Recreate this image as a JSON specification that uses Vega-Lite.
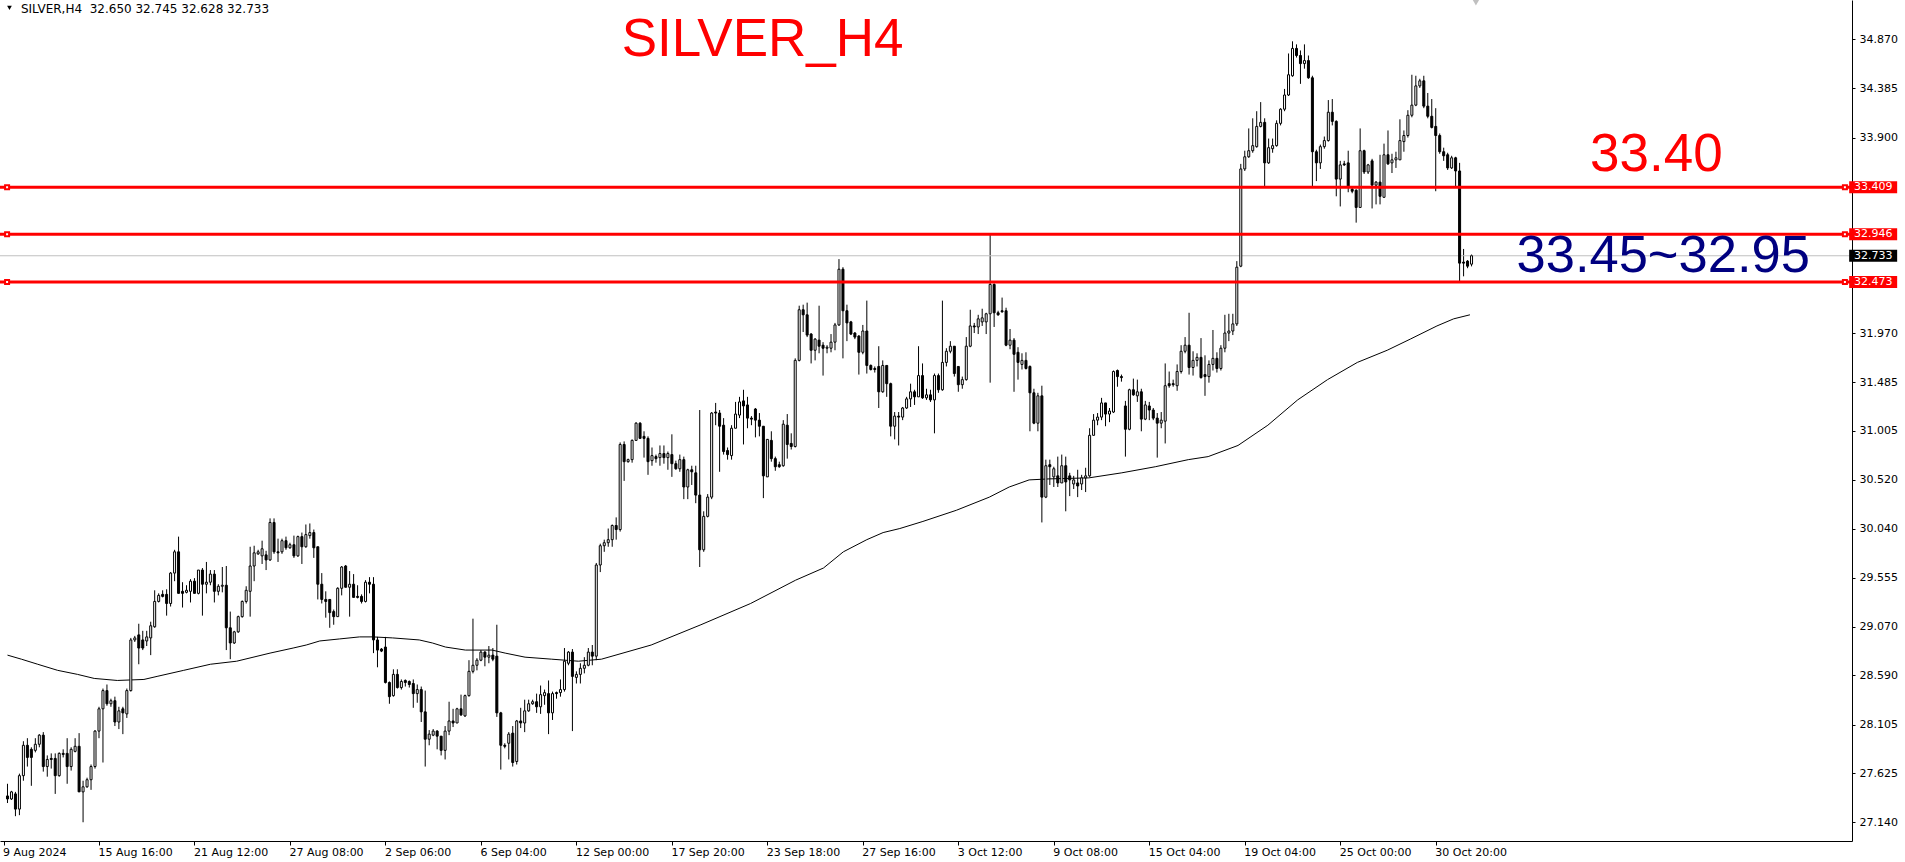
{
  "$schema": "https://vega.github.io/schema/vega-lite/v6.json",
  "width": 1852,
  "height": 841,
  "autosize": {"type": "none"},
  "padding": {"left": 0, "top": 0, "right": 53, "bottom": 21},
  "background": "white",
  "config": {
    "view": {"stroke": null},
    "axis": {"labelFont": "DejaVu Sans", "labelFontSize": 11, "labelColor": "black", "domainColor": "black", "tickColor": "black", "grid": false, "domain": true, "ticks": true, "labels": true}
  },
  "resolve": {"axis": {"x": "independent", "y": "independent"}},
  "datasets": {
    "bars": [
      {"i":0,"o":27.40,"h":27.52,"l":27.33,"c":27.37},{"i":1,"o":27.37,"h":27.45,"l":27.36,"c":27.44},{"i":2,"o":27.42,"h":27.44,"l":27.20,"c":27.27},{"i":3,"o":27.27,"h":27.62,"l":27.21,"c":27.60},{"i":4,"o":27.60,"h":27.94,"l":27.55,"c":27.90},
      {"i":5,"o":27.90,"h":27.97,"l":27.69,"c":27.78},{"i":6,"o":27.86,"h":27.88,"l":27.50,"c":27.78},{"i":7,"o":27.85,"h":27.97,"l":27.83,"c":27.91},{"i":8,"o":27.91,"h":28.01,"l":27.88,"c":28.00},{"i":9,"o":28.00,"h":28.03,"l":27.64,"c":27.69},
      {"i":10,"o":27.69,"h":27.80,"l":27.59,"c":27.76},{"i":11,"o":27.77,"h":27.82,"l":27.67,"c":27.76},{"i":12,"o":27.77,"h":27.82,"l":27.42,"c":27.60},{"i":13,"o":27.60,"h":27.83,"l":27.59,"c":27.82},{"i":14,"o":27.82,"h":27.86,"l":27.78,"c":27.81},
      {"i":15,"o":27.82,"h":27.97,"l":27.52,"c":27.69},{"i":16,"o":27.69,"h":27.88,"l":27.65,"c":27.86},{"i":17,"o":27.84,"h":27.97,"l":27.83,"c":27.89},{"i":18,"o":27.89,"h":28.02,"l":27.44,"c":27.44},{"i":19,"o":27.44,"h":27.55,"l":27.14,"c":27.49},
      {"i":20,"o":27.49,"h":27.58,"l":27.48,"c":27.56},{"i":21,"o":27.56,"h":27.71,"l":27.46,"c":27.69},{"i":22,"o":27.69,"h":28.05,"l":27.67,"c":28.04},{"i":23,"o":28.04,"h":28.28,"l":27.97,"c":28.26},{"i":24,"o":28.26,"h":28.46,"l":27.73,"c":28.44},
      {"i":25,"o":28.44,"h":28.50,"l":28.29,"c":28.31},{"i":26,"o":28.31,"h":28.36,"l":28.28,"c":28.34},{"i":27,"o":28.34,"h":28.38,"l":28.09,"c":28.13},{"i":28,"o":28.13,"h":28.28,"l":28.06,"c":28.24},{"i":29,"o":28.26,"h":28.28,"l":28.01,"c":28.22},
      {"i":30,"o":28.21,"h":28.46,"l":28.17,"c":28.44},{"i":31,"o":28.44,"h":28.96,"l":28.43,"c":28.94},{"i":32,"o":28.94,"h":28.98,"l":28.92,"c":28.96},{"i":33,"o":28.99,"h":29.10,"l":28.70,"c":28.86},{"i":34,"o":28.94,"h":29.03,"l":28.84,"c":28.86},
      {"i":35,"o":28.93,"h":29.03,"l":28.88,"c":28.97},{"i":36,"o":28.96,"h":29.12,"l":28.79,"c":29.08},{"i":37,"o":29.07,"h":29.43,"l":29.06,"c":29.32},{"i":38,"o":29.32,"h":29.40,"l":29.31,"c":29.38},{"i":39,"o":29.39,"h":29.43,"l":29.36,"c":29.37},
      {"i":40,"o":29.39,"h":29.44,"l":29.18,"c":29.30},{"i":41,"o":29.30,"h":29.61,"l":29.27,"c":29.60},{"i":42,"o":29.60,"h":29.83,"l":29.52,"c":29.81},{"i":43,"o":29.81,"h":29.96,"l":29.40,"c":29.40},{"i":44,"o":29.42,"h":29.51,"l":29.26,"c":29.40},
      {"i":45,"o":29.41,"h":29.48,"l":29.40,"c":29.43},{"i":46,"o":29.42,"h":29.54,"l":29.31,"c":29.52},{"i":47,"o":29.52,"h":29.55,"l":29.40,"c":29.40},{"i":48,"o":29.40,"h":29.63,"l":29.39,"c":29.63},{"i":49,"o":29.63,"h":29.65,"l":29.18,"c":29.49},
      {"i":50,"o":29.49,"h":29.71,"l":29.40,"c":29.51},{"i":51,"o":29.51,"h":29.63,"l":29.48,"c":29.59},{"i":52,"o":29.59,"h":29.63,"l":29.31,"c":29.42},{"i":53,"o":29.42,"h":29.49,"l":29.38,"c":29.47},{"i":54,"o":29.47,"h":29.66,"l":29.41,"c":29.48},
      {"i":55,"o":29.48,"h":29.67,"l":28.84,"c":29.06},{"i":56,"o":29.06,"h":29.22,"l":28.75,"c":28.91},{"i":57,"o":28.91,"h":29.03,"l":28.90,"c":29.02},{"i":58,"o":29.02,"h":29.18,"l":29.01,"c":29.17},{"i":59,"o":29.17,"h":29.33,"l":29.16,"c":29.32},
      {"i":60,"o":29.32,"h":29.47,"l":29.30,"c":29.43},{"i":61,"o":29.42,"h":29.86,"l":29.17,"c":29.67},{"i":62,"o":29.67,"h":29.87,"l":29.52,"c":29.80},{"i":63,"o":29.79,"h":29.83,"l":29.78,"c":29.81},{"i":64,"o":29.77,"h":29.92,"l":29.69,"c":29.84},
      {"i":65,"o":29.78,"h":29.82,"l":29.63,"c":29.73},{"i":66,"o":29.73,"h":30.14,"l":29.72,"c":30.10},{"i":67,"o":30.10,"h":30.14,"l":29.79,"c":29.81},{"i":68,"o":29.81,"h":29.94,"l":29.71,"c":29.80},{"i":69,"o":29.81,"h":29.94,"l":29.79,"c":29.92},
      {"i":70,"o":29.92,"h":29.96,"l":29.83,"c":29.85},{"i":71,"o":29.85,"h":29.90,"l":29.84,"c":29.88},{"i":72,"o":29.88,"h":29.97,"l":29.75,"c":29.77},{"i":73,"o":29.77,"h":29.97,"l":29.76,"c":29.96},{"i":74,"o":29.96,"h":30.00,"l":29.69,"c":29.86},
      {"i":75,"o":29.86,"h":30.08,"l":29.85,"c":29.98},{"i":76,"o":29.97,"h":30.09,"l":29.94,"c":30.00},{"i":77,"o":30.00,"h":30.03,"l":29.75,"c":29.85},{"i":78,"o":29.86,"h":29.86,"l":29.34,"c":29.49},{"i":79,"o":29.49,"h":29.60,"l":29.30,"c":29.34},
      {"i":80,"o":29.34,"h":29.42,"l":29.16,"c":29.32},{"i":81,"o":29.34,"h":29.34,"l":29.06,"c":29.21},{"i":82,"o":29.22,"h":29.24,"l":29.09,"c":29.17},{"i":83,"o":29.17,"h":29.46,"l":29.17,"c":29.45},{"i":84,"o":29.45,"h":29.67,"l":29.38,"c":29.66},
      {"i":85,"o":29.67,"h":29.68,"l":29.46,"c":29.46},{"i":86,"o":29.46,"h":29.62,"l":29.17,"c":29.49},{"i":87,"o":29.49,"h":29.59,"l":29.36,"c":29.36},{"i":88,"o":29.37,"h":29.48,"l":29.35,"c":29.36},{"i":89,"o":29.37,"h":29.39,"l":29.30,"c":29.32},
      {"i":90,"o":29.32,"h":29.53,"l":29.31,"c":29.51},{"i":91,"o":29.51,"h":29.56,"l":29.40,"c":29.49},{"i":92,"o":29.49,"h":29.56,"l":28.81,"c":28.94},{"i":93,"o":28.94,"h":28.97,"l":28.67,"c":28.84},{"i":94,"o":28.85,"h":28.86,"l":28.82,"c":28.83},
      {"i":95,"o":28.87,"h":28.97,"l":28.51,"c":28.52},{"i":96,"o":28.52,"h":28.53,"l":28.31,"c":28.38},{"i":97,"o":28.39,"h":28.65,"l":28.38,"c":28.60},{"i":98,"o":28.60,"h":28.65,"l":28.46,"c":28.47},{"i":99,"o":28.47,"h":28.55,"l":28.45,"c":28.53},
      {"i":100,"o":28.54,"h":28.55,"l":28.48,"c":28.52},{"i":101,"o":28.53,"h":28.54,"l":28.47,"c":28.50},{"i":102,"o":28.51,"h":28.55,"l":28.27,"c":28.41},{"i":103,"o":28.41,"h":28.50,"l":28.32,"c":28.45},{"i":104,"o":28.45,"h":28.48,"l":28.13,"c":28.23},
      {"i":105,"o":28.23,"h":28.44,"l":27.69,"c":27.96},{"i":106,"o":27.96,"h":28.05,"l":27.90,"c":28.01},{"i":107,"o":28.00,"h":28.06,"l":27.99,"c":28.04},{"i":108,"o":28.04,"h":28.05,"l":27.86,"c":27.99},{"i":109,"o":27.99,"h":27.99,"l":27.80,"c":27.85},
      {"i":110,"o":27.85,"h":28.09,"l":27.76,"c":28.04},{"i":111,"o":28.04,"h":28.33,"l":28.00,"c":28.14},{"i":112,"o":28.14,"h":28.26,"l":28.08,"c":28.12},{"i":113,"o":28.12,"h":28.27,"l":28.12,"c":28.26},{"i":114,"o":28.26,"h":28.40,"l":28.19,"c":28.20},
      {"i":115,"o":28.19,"h":28.40,"l":28.18,"c":28.39},{"i":116,"o":28.39,"h":28.74,"l":28.38,"c":28.63},{"i":117,"o":28.63,"h":29.15,"l":28.61,"c":28.69},{"i":118,"o":28.69,"h":28.76,"l":28.64,"c":28.74},{"i":119,"o":28.74,"h":28.84,"l":28.73,"c":28.82},
      {"i":120,"o":28.82,"h":28.83,"l":28.68,"c":28.77},{"i":121,"o":28.77,"h":28.88,"l":28.71,"c":28.79},{"i":122,"o":28.79,"h":28.86,"l":28.73,"c":28.75},{"i":123,"o":28.78,"h":29.09,"l":28.18,"c":28.22},{"i":124,"o":28.22,"h":28.23,"l":27.66,"c":27.90},
      {"i":125,"o":27.90,"h":27.92,"l":27.87,"c":27.89},{"i":126,"o":27.92,"h":28.03,"l":27.76,"c":28.01},{"i":127,"o":28.02,"h":28.09,"l":27.69,"c":27.73},{"i":128,"o":27.74,"h":28.15,"l":27.71,"c":28.14},{"i":129,"o":28.14,"h":28.27,"l":28.07,"c":28.12},
      {"i":130,"o":28.12,"h":28.35,"l":28.03,"c":28.24},{"i":131,"o":28.24,"h":28.35,"l":28.23,"c":28.31},{"i":132,"o":28.31,"h":28.35,"l":28.30,"c":28.33},{"i":133,"o":28.33,"h":28.41,"l":28.22,"c":28.28},{"i":134,"o":28.28,"h":28.49,"l":28.21,"c":28.40},
      {"i":135,"o":28.39,"h":28.45,"l":28.30,"c":28.42},{"i":136,"o":28.41,"h":28.54,"l":28.01,"c":28.22},{"i":137,"o":28.22,"h":28.43,"l":28.15,"c":28.41},{"i":138,"o":28.42,"h":28.43,"l":28.36,"c":28.41},{"i":139,"o":28.42,"h":28.55,"l":28.38,"c":28.45},
      {"i":140,"o":28.45,"h":28.86,"l":28.43,"c":28.73},{"i":141,"o":28.71,"h":28.83,"l":28.69,"c":28.82},{"i":142,"o":28.82,"h":28.85,"l":28.04,"c":28.58},{"i":143,"o":28.57,"h":28.63,"l":28.51,"c":28.60},{"i":144,"o":28.60,"h":28.71,"l":28.51,"c":28.66},
      {"i":145,"o":28.66,"h":28.77,"l":28.61,"c":28.69},{"i":146,"o":28.69,"h":28.86,"l":28.68,"c":28.82},{"i":147,"o":28.82,"h":28.89,"l":28.69,"c":28.78},{"i":148,"o":28.78,"h":29.70,"l":28.74,"c":29.68},{"i":149,"o":29.68,"h":29.89,"l":29.61,"c":29.87},
      {"i":150,"o":29.87,"h":29.93,"l":29.81,"c":29.90},{"i":151,"o":29.90,"h":30.04,"l":29.86,"c":29.93},{"i":152,"o":29.93,"h":30.08,"l":29.86,"c":30.07},{"i":153,"o":30.07,"h":30.15,"l":29.93,"c":30.03},{"i":154,"o":30.03,"h":30.89,"l":30.01,"c":30.87},
      {"i":155,"o":30.87,"h":30.90,"l":30.51,"c":30.70},{"i":156,"o":30.70,"h":30.73,"l":30.69,"c":30.72},{"i":157,"o":30.72,"h":30.92,"l":30.69,"c":30.91},{"i":158,"o":30.91,"h":31.09,"l":30.91,"c":31.08},{"i":159,"o":31.08,"h":31.09,"l":30.93,"c":30.93},
      {"i":160,"o":30.95,"h":31.00,"l":30.74,"c":30.93},{"i":161,"o":30.93,"h":30.95,"l":30.57,"c":30.70},{"i":162,"o":30.71,"h":30.84,"l":30.66,"c":30.76},{"i":163,"o":30.75,"h":30.77,"l":30.69,"c":30.73},{"i":164,"o":30.74,"h":30.86,"l":30.66,"c":30.78},
      {"i":165,"o":30.78,"h":30.86,"l":30.68,"c":30.74},{"i":166,"o":30.74,"h":30.80,"l":30.62,"c":30.78},{"i":167,"o":30.77,"h":30.97,"l":30.55,"c":30.68},{"i":168,"o":30.68,"h":30.71,"l":30.62,"c":30.63},{"i":169,"o":30.63,"h":30.77,"l":30.60,"c":30.72},
      {"i":170,"o":30.72,"h":30.75,"l":30.33,"c":30.45},{"i":171,"o":30.45,"h":30.63,"l":30.33,"c":30.62},{"i":172,"o":30.62,"h":30.66,"l":30.47,"c":30.60},{"i":173,"o":30.59,"h":30.66,"l":30.29,"c":30.37},{"i":174,"o":30.37,"h":31.21,"l":29.66,"c":29.83},
      {"i":175,"o":29.83,"h":30.21,"l":29.81,"c":30.16},{"i":176,"o":30.16,"h":30.38,"l":30.15,"c":30.35},{"i":177,"o":30.35,"h":31.19,"l":30.33,"c":31.18},{"i":178,"o":31.19,"h":31.28,"l":31.06,"c":31.18},{"i":179,"o":31.18,"h":31.21,"l":30.60,"c":31.05},
      {"i":180,"o":31.06,"h":31.13,"l":30.77,"c":30.80},{"i":181,"o":30.81,"h":30.84,"l":30.72,"c":30.77},{"i":182,"o":30.76,"h":31.06,"l":30.72,"c":31.03},{"i":183,"o":31.03,"h":31.29,"l":31.03,"c":31.17},{"i":184,"o":31.16,"h":31.34,"l":31.13,"c":31.29},
      {"i":185,"o":31.30,"h":31.41,"l":30.87,"c":31.25},{"i":186,"o":31.26,"h":31.34,"l":31.03,"c":31.13},{"i":187,"o":31.13,"h":31.15,"l":31.06,"c":31.12},{"i":188,"o":31.22,"h":31.23,"l":30.94,"c":31.11},{"i":189,"o":31.11,"h":31.18,"l":30.95,"c":31.05},
      {"i":190,"o":31.05,"h":31.05,"l":30.34,"c":30.56},{"i":191,"o":30.55,"h":30.92,"l":30.55,"c":30.92},{"i":192,"o":30.91,"h":31.00,"l":30.70,"c":30.73},{"i":193,"o":30.73,"h":30.75,"l":30.61,"c":30.65},{"i":194,"o":30.67,"h":30.70,"l":30.64,"c":30.65},
      {"i":195,"o":30.66,"h":31.11,"l":30.65,"c":31.07},{"i":196,"o":31.06,"h":31.17,"l":30.73,"c":30.87},{"i":197,"o":30.88,"h":30.98,"l":30.82,"c":30.85},{"i":198,"o":30.85,"h":31.72,"l":30.84,"c":31.70},{"i":199,"o":31.70,"h":32.24,"l":31.69,"c":32.20},
      {"i":200,"o":32.20,"h":32.25,"l":31.98,"c":32.15},{"i":201,"o":32.15,"h":32.27,"l":31.93,"c":31.95},{"i":202,"o":31.96,"h":31.97,"l":31.67,"c":31.80},{"i":203,"o":31.80,"h":31.92,"l":31.70,"c":31.91},{"i":204,"o":31.90,"h":32.24,"l":31.77,"c":31.84},
      {"i":205,"o":31.85,"h":31.88,"l":31.55,"c":31.82},{"i":206,"o":31.82,"h":31.85,"l":31.77,"c":31.83},{"i":207,"o":31.82,"h":31.96,"l":31.78,"c":31.88},{"i":208,"o":31.88,"h":32.07,"l":31.80,"c":32.05},{"i":209,"o":32.05,"h":32.70,"l":32.04,"c":32.60},
      {"i":210,"o":32.60,"h":32.62,"l":31.72,"c":32.19},{"i":211,"o":32.19,"h":32.25,"l":31.89,"c":32.07},{"i":212,"o":32.08,"h":32.09,"l":31.95,"c":31.96},{"i":213,"o":31.97,"h":31.98,"l":31.91,"c":31.93},{"i":214,"o":31.94,"h":31.95,"l":31.56,"c":31.78},
      {"i":215,"o":31.78,"h":32.05,"l":31.76,"c":31.99},{"i":216,"o":31.99,"h":32.29,"l":31.57,"c":31.65},{"i":217,"o":31.65,"h":31.66,"l":31.60,"c":31.61},{"i":218,"o":31.62,"h":31.64,"l":31.58,"c":31.61},{"i":219,"o":31.64,"h":31.84,"l":31.23,"c":31.39},
      {"i":220,"o":31.39,"h":31.70,"l":31.38,"c":31.65},{"i":221,"o":31.65,"h":31.65,"l":31.34,"c":31.47},{"i":222,"o":31.47,"h":31.48,"l":30.95,"c":31.05},{"i":223,"o":31.05,"h":31.19,"l":30.92,"c":31.15},{"i":224,"o":31.15,"h":31.19,"l":30.86,"c":31.14},
      {"i":225,"o":31.14,"h":31.24,"l":31.11,"c":31.23},{"i":226,"o":31.23,"h":31.34,"l":31.22,"c":31.32},{"i":227,"o":31.32,"h":31.47,"l":31.24,"c":31.39},{"i":228,"o":31.39,"h":31.41,"l":31.26,"c":31.34},{"i":229,"o":31.34,"h":31.84,"l":31.34,"c":31.55},
      {"i":230,"o":31.55,"h":31.67,"l":31.32,"c":31.33},{"i":231,"o":31.33,"h":31.42,"l":31.31,"c":31.36},{"i":232,"o":31.36,"h":31.41,"l":31.29,"c":31.31},{"i":233,"o":31.31,"h":31.57,"l":30.98,"c":31.55},{"i":234,"o":31.55,"h":31.57,"l":31.38,"c":31.41},
      {"i":235,"o":31.41,"h":32.29,"l":31.40,"c":31.68},{"i":236,"o":31.68,"h":31.82,"l":31.64,"c":31.79},{"i":237,"o":31.79,"h":31.89,"l":31.77,"c":31.84},{"i":238,"o":31.84,"h":31.84,"l":31.54,"c":31.57},{"i":239,"o":31.64,"h":31.64,"l":31.39,"c":31.46},
      {"i":240,"o":31.46,"h":31.54,"l":31.42,"c":31.51},{"i":241,"o":31.51,"h":31.93,"l":31.50,"c":31.84},{"i":242,"o":31.84,"h":32.20,"l":31.83,"c":32.04},{"i":243,"o":32.04,"h":32.07,"l":31.97,"c":32.03},{"i":244,"o":32.03,"h":32.15,"l":31.96,"c":32.11},
      {"i":245,"o":32.08,"h":32.21,"l":32.04,"c":32.12},{"i":246,"o":32.08,"h":32.17,"l":31.96,"c":32.16},{"i":247,"o":32.16,"h":32.94,"l":31.48,"c":32.45},{"i":248,"o":32.45,"h":32.46,"l":32.03,"c":32.17},{"i":249,"o":32.17,"h":32.19,"l":32.14,"c":32.15},
      {"i":250,"o":32.19,"h":32.32,"l":32.17,"c":32.18},{"i":251,"o":32.19,"h":32.22,"l":31.84,"c":31.85},{"i":252,"o":31.85,"h":32.01,"l":31.81,"c":31.90},{"i":253,"o":31.90,"h":31.92,"l":31.39,"c":31.76},{"i":254,"o":31.78,"h":31.83,"l":31.51,"c":31.68},
      {"i":255,"o":31.66,"h":31.77,"l":31.61,"c":31.70},{"i":256,"o":31.70,"h":31.78,"l":31.61,"c":31.62},{"i":257,"o":31.64,"h":31.65,"l":31.00,"c":31.38},{"i":258,"o":31.38,"h":31.42,"l":31.07,"c":31.08},{"i":259,"o":31.08,"h":31.38,"l":31.00,"c":31.35},
      {"i":260,"o":31.35,"h":31.45,"l":30.10,"c":30.35},{"i":261,"o":30.35,"h":30.72,"l":30.34,"c":30.66},{"i":262,"o":30.67,"h":30.72,"l":30.47,"c":30.65},{"i":263,"o":30.55,"h":30.65,"l":30.45,"c":30.63},{"i":264,"o":30.56,"h":30.75,"l":30.45,"c":30.49},
      {"i":265,"o":30.49,"h":30.77,"l":30.49,"c":30.66},{"i":266,"o":30.66,"h":30.75,"l":30.21,"c":30.50},{"i":267,"o":30.56,"h":30.59,"l":30.36,"c":30.52},{"i":268,"o":30.48,"h":30.56,"l":30.43,"c":30.52},{"i":269,"o":30.49,"h":30.62,"l":30.35,"c":30.46},
      {"i":270,"o":30.48,"h":30.57,"l":30.42,"c":30.54},{"i":271,"o":30.54,"h":30.64,"l":30.40,"c":30.56},{"i":272,"o":30.56,"h":31.03,"l":30.55,"c":30.96},{"i":273,"o":30.96,"h":31.17,"l":30.96,"c":31.11},{"i":274,"o":31.11,"h":31.18,"l":31.06,"c":31.14},
      {"i":275,"o":31.14,"h":31.33,"l":31.11,"c":31.28},{"i":276,"o":31.28,"h":31.28,"l":31.05,"c":31.17},{"i":277,"o":31.17,"h":31.23,"l":31.09,"c":31.20},{"i":278,"o":31.19,"h":31.60,"l":31.18,"c":31.59},{"i":279,"o":31.60,"h":31.61,"l":31.44,"c":31.54},
      {"i":280,"o":31.54,"h":31.56,"l":31.49,"c":31.53},{"i":281,"o":31.25,"h":31.30,"l":30.75,"c":31.02},{"i":282,"o":31.02,"h":31.42,"l":31.01,"c":31.41},{"i":283,"o":31.41,"h":31.52,"l":31.35,"c":31.36},{"i":284,"o":31.35,"h":31.51,"l":31.29,"c":31.39},
      {"i":285,"o":31.39,"h":31.42,"l":31.00,"c":31.12},{"i":286,"o":31.12,"h":31.30,"l":31.11,"c":31.26},{"i":287,"o":31.25,"h":31.29,"l":31.11,"c":31.21},{"i":288,"o":31.21,"h":31.23,"l":31.11,"c":31.13},{"i":289,"o":31.13,"h":31.18,"l":30.74,"c":31.08},
      {"i":290,"o":31.08,"h":31.19,"l":31.03,"c":31.11},{"i":291,"o":31.10,"h":31.67,"l":30.88,"c":31.45},{"i":292,"o":31.47,"h":31.59,"l":31.43,"c":31.45},{"i":293,"o":31.47,"h":31.51,"l":31.44,"c":31.46},{"i":294,"o":31.45,"h":31.66,"l":31.40,"c":31.59},
      {"i":295,"o":31.59,"h":31.85,"l":31.57,"c":31.79},{"i":296,"o":31.79,"h":31.93,"l":31.77,"c":31.85},{"i":297,"o":31.85,"h":32.17,"l":31.56,"c":31.63},{"i":298,"o":31.63,"h":31.79,"l":31.55,"c":31.70},{"i":299,"o":31.70,"h":31.77,"l":31.64,"c":31.73},
      {"i":300,"o":31.73,"h":31.92,"l":31.52,"c":31.53},{"i":301,"o":31.56,"h":31.75,"l":31.35,"c":31.54},{"i":302,"o":31.54,"h":31.70,"l":31.48,"c":31.66},{"i":303,"o":31.66,"h":32.00,"l":31.60,"c":31.72},{"i":304,"o":31.72,"h":31.78,"l":31.58,"c":31.62},
      {"i":305,"o":31.62,"h":31.85,"l":31.60,"c":31.82},{"i":306,"o":31.82,"h":32.15,"l":31.78,"c":31.97},{"i":307,"o":31.97,"h":32.16,"l":31.89,"c":31.99},{"i":308,"o":31.99,"h":32.16,"l":31.95,"c":32.06},{"i":309,"o":32.06,"h":32.68,"l":32.04,"c":32.62},
      {"i":310,"o":32.63,"h":33.64,"l":32.62,"c":33.59},{"i":311,"o":33.59,"h":33.77,"l":33.57,"c":33.71},{"i":312,"o":33.71,"h":33.99,"l":33.70,"c":33.77},{"i":313,"o":33.77,"h":34.09,"l":33.75,"c":33.82},{"i":314,"o":33.81,"h":34.16,"l":33.80,"c":34.01},
      {"i":315,"o":34.01,"h":34.25,"l":34.00,"c":34.05},{"i":316,"o":34.05,"h":34.09,"l":33.42,"c":33.65},{"i":317,"o":33.65,"h":33.89,"l":33.64,"c":33.80},{"i":318,"o":33.79,"h":33.89,"l":33.75,"c":33.82},{"i":319,"o":33.82,"h":34.07,"l":33.81,"c":34.04},
      {"i":320,"o":34.04,"h":34.19,"l":34.02,"c":34.18},{"i":321,"o":34.18,"h":34.38,"l":34.16,"c":34.32},{"i":322,"o":34.32,"h":34.73,"l":34.31,"c":34.52},{"i":323,"o":34.51,"h":34.85,"l":34.50,"c":34.78},{"i":324,"o":34.78,"h":34.82,"l":34.69,"c":34.71},
      {"i":325,"o":34.71,"h":34.76,"l":34.43,"c":34.63},{"i":326,"o":34.63,"h":34.82,"l":34.58,"c":34.66},{"i":327,"o":34.66,"h":34.71,"l":34.48,"c":34.49},{"i":328,"o":34.49,"h":34.51,"l":33.42,"c":33.76},{"i":329,"o":33.76,"h":33.78,"l":33.47,"c":33.65},
      {"i":330,"o":33.65,"h":33.83,"l":33.59,"c":33.81},{"i":331,"o":33.81,"h":33.91,"l":33.79,"c":33.87},{"i":332,"o":33.87,"h":34.27,"l":33.86,"c":34.15},{"i":333,"o":34.15,"h":34.28,"l":34.02,"c":34.06},{"i":334,"o":34.06,"h":34.07,"l":33.32,"c":33.49},
      {"i":335,"o":33.49,"h":33.67,"l":33.22,"c":33.63},{"i":336,"o":33.64,"h":33.67,"l":33.62,"c":33.63},{"i":337,"o":33.65,"h":33.77,"l":33.36,"c":33.41},{"i":338,"o":33.39,"h":33.41,"l":33.35,"c":33.37},{"i":339,"o":33.38,"h":33.39,"l":33.06,"c":33.21},
      {"i":340,"o":33.21,"h":33.99,"l":33.21,"c":33.77},{"i":341,"o":33.77,"h":33.78,"l":33.54,"c":33.56},{"i":342,"o":33.56,"h":33.64,"l":33.54,"c":33.63},{"i":343,"o":33.67,"h":33.69,"l":33.20,"c":33.43},{"i":344,"o":33.43,"h":33.47,"l":33.24,"c":33.46},
      {"i":345,"o":33.46,"h":33.73,"l":33.24,"c":33.32},{"i":346,"o":33.31,"h":33.84,"l":33.31,"c":33.73},{"i":347,"o":33.73,"h":33.97,"l":33.63,"c":33.64},{"i":348,"o":33.65,"h":33.74,"l":33.55,"c":33.68},{"i":349,"o":33.68,"h":33.76,"l":33.60,"c":33.70},
      {"i":350,"o":33.68,"h":34.08,"l":33.68,"c":33.87},{"i":351,"o":33.86,"h":33.97,"l":33.76,"c":33.92},{"i":352,"o":33.92,"h":34.17,"l":33.90,"c":34.12},{"i":353,"o":34.12,"h":34.52,"l":34.10,"c":34.22},{"i":354,"o":34.22,"h":34.51,"l":34.21,"c":34.41},
      {"i":355,"o":34.41,"h":34.48,"l":34.39,"c":34.46},{"i":356,"o":34.46,"h":34.51,"l":34.19,"c":34.21},{"i":357,"o":34.21,"h":34.34,"l":34.09,"c":34.11},{"i":358,"o":34.11,"h":34.28,"l":33.99,"c":34.00},{"i":359,"o":34.01,"h":34.19,"l":33.37,"c":33.92},
      {"i":360,"o":33.92,"h":33.94,"l":33.74,"c":33.76},{"i":361,"o":33.76,"h":33.80,"l":33.67,"c":33.72},{"i":362,"o":33.73,"h":33.75,"l":33.58,"c":33.60},{"i":363,"o":33.60,"h":33.72,"l":33.59,"c":33.70},{"i":364,"o":33.70,"h":33.71,"l":33.42,"c":33.57},
      {"i":365,"o":33.57,"h":33.65,"l":32.47,"c":32.66},{"i":366,"o":32.67,"h":32.80,"l":32.53,"c":32.66},{"i":367,"o":32.68,"h":32.69,"l":32.61,"c":32.63},{"i":368,"o":32.650,"h":32.745,"l":32.628,"c":32.733}
    ],
    "ma": [
      {"i":0,"v":28.79},{"i":3.5,"v":28.75},{"i":7.6,"v":28.70},{"i":12.6,"v":28.64},{"i":17.6,"v":28.60},{"i":21.8,"v":28.56},{"i":27.6,"v":28.54},{"i":34.3,"v":28.55},{"i":37.6,"v":28.58},{"i":44.3,"v":28.64},
      {"i":51,"v":28.70},{"i":57.6,"v":28.73},{"i":66,"v":28.81},{"i":71.8,"v":28.86},{"i":75.1,"v":28.89},{"i":78.5,"v":28.93},{"i":83.5,"v":28.95},{"i":88.5,"v":28.97},{"i":91.8,"v":28.97},{"i":96.8,"v":28.96},
      {"i":103.5,"v":28.94},{"i":106.8,"v":28.91},{"i":110.1,"v":28.87},{"i":115.1,"v":28.84},{"i":121.8,"v":28.84},{"i":125.1,"v":28.81},{"i":130.1,"v":28.77},{"i":136.8,"v":28.75},{"i":143.5,"v":28.73},{"i":149.3,"v":28.75},
      {"i":161.8,"v":28.89},{"i":174.3,"v":29.09},{"i":186.8,"v":29.30},{"i":198.1,"v":29.53},{"i":205.1,"v":29.65},{"i":210.1,"v":29.81},{"i":216,"v":29.93},{"i":220.1,"v":30.00},{"i":224.3,"v":30.04},{"i":230.1,"v":30.11},
      {"i":238.5,"v":30.22},{"i":246.8,"v":30.35},{"i":251.8,"v":30.45},{"i":256.8,"v":30.52},{"i":261.8,"v":30.53},{"i":271.8,"v":30.54},{"i":280.1,"v":30.59},{"i":288.5,"v":30.65},{"i":296.8,"v":30.72},{"i":301.8,"v":30.75},
      {"i":309.3,"v":30.86},{"i":316.8,"v":31.06},{"i":324.3,"v":31.31},{"i":331.8,"v":31.51},{"i":339.3,"v":31.68},{"i":346.8,"v":31.80},{"i":352.6,"v":31.91},{"i":359.3,"v":32.04},{"i":363.5,"v":32.11},{"i":367.6,"v":32.15}
    ],
    "levels": [{"p": 33.409}, {"p": 32.946}, {"p": 32.473}],
    "bid": [{"p": 32.733}]
  },
  "layer": [
    {
      "data": {"name": "bars"},
      "mark": {"type": "rule", "color": "black", "strokeWidth": 1},
      "encoding": {
        "x": {"field": "i", "type": "quantitative", "title": null, "scale": {"domain": [-0.625, 462.375], "nice": false, "zero": false},
          "axis": {"orient": "bottom", "title": null, "values": [-1, 23, 47, 71, 95, 119, 143, 167, 191, 215, 239, 263, 287, 311, 335, 359],
            "labelExpr": "['9 Aug 2024','15 Aug 16:00','21 Aug 12:00','27 Aug 08:00','2 Sep 06:00','6 Sep 04:00','12 Sep 00:00','17 Sep 20:00','23 Sep 18:00','27 Sep 16:00','3 Oct 12:00','9 Oct 08:00','15 Oct 04:00','19 Oct 04:00','25 Oct 00:00','30 Oct 20:00'][round((datum.value + 1) / 24)]",
            "labelAlign": "left", "labelPadding": 1, "labelOffset": -1, "tickSize": 4, "labelFlush": false, "labelOverlap": false, "labelBound": false}},
        "y": {"field": "l", "type": "quantitative", "title": null, "scale": {"domain": [26.955, 35.258], "nice": false, "zero": false},
          "axis": {"orient": "right", "title": null, "values": [27.14, 27.625, 28.105, 28.59, 29.07, 29.555, 30.04, 30.52, 31.005, 31.485, 31.97, 33.9, 34.385, 34.87],
            "format": ".3f", "tickSize": 3, "labelPadding": 4, "labelOverlap": false, "labelFlush": false}},
        "y2": {"field": "h"}
      }
    },
    {
      "data": {"name": "bid"},
      "mark": {"type": "rule", "color": "#c0c0c0", "strokeWidth": 1},
      "encoding": {
        "y": {"field": "p", "type": "quantitative", "scale": {"domain": [26.955, 35.258], "nice": false, "zero": false}, "axis": null}
      }
    },
    {
      "data": {"name": "ma"},
      "mark": {"type": "line", "color": "black", "strokeWidth": 1},
      "encoding": {
        "x": {"field": "i", "type": "quantitative", "scale": {"domain": [-0.625, 462.375], "nice": false, "zero": false}, "axis": null},
        "y": {"field": "v", "type": "quantitative", "scale": {"domain": [26.955, 35.258], "nice": false, "zero": false}, "axis": null}
      }
    },
    {
      "data": {"name": "bars"},
      "mark": {"type": "bar", "width": 2, "stroke": "black", "strokeWidth": 1},
      "encoding": {
        "x": {"field": "i", "type": "quantitative", "scale": {"domain": [-0.625, 462.375], "nice": false, "zero": false}, "axis": null},
        "y": {"field": "o", "type": "quantitative", "scale": {"domain": [26.955, 35.258], "nice": false, "zero": false}, "axis": null},
        "y2": {"field": "c"},
        "fill": {"condition": {"test": "datum.c >= datum.o", "value": "white"}, "value": "black"}
      }
    },
    {
      "data": {"name": "levels"},
      "mark": {"type": "rule", "color": "#ff0000", "strokeWidth": 3},
      "encoding": {
        "y": {"field": "p", "type": "quantitative", "scale": {"domain": [26.955, 35.258], "nice": false, "zero": false}, "axis": null}
      }
    },
    {
      "data": {"name": "levels"},
      "mark": {"type": "point", "shape": "square", "size": 16, "filled": true, "fill": "white", "stroke": "#ff0000", "strokeWidth": 2, "opacity": 1},
      "encoding": {
        "x": {"datum": -0.1, "type": "quantitative", "scale": {"domain": [-0.625, 462.375], "nice": false, "zero": false}, "axis": null},
        "y": {"field": "p", "type": "quantitative", "scale": {"domain": [26.955, 35.258], "nice": false, "zero": false}, "axis": null}
      }
    },
    {
      "data": {"name": "levels"},
      "mark": {"type": "point", "shape": "square", "size": 16, "filled": true, "fill": "white", "stroke": "#ff0000", "strokeWidth": 2, "opacity": 1},
      "encoding": {
        "x": {"datum": 461.85, "type": "quantitative", "scale": {"domain": [-0.625, 462.375], "nice": false, "zero": false}, "axis": null},
        "y": {"field": "p", "type": "quantitative", "scale": {"domain": [26.955, 35.258], "nice": false, "zero": false}, "axis": null}
      }
    },
    {
      "data": {"name": "levels"},
      "mark": {"type": "tick", "orient": "horizontal", "size": 48, "thickness": 12, "color": "#ff0000", "opacity": 1},
      "encoding": {
        "x": {"datum": 468.95, "type": "quantitative", "scale": {"domain": [-0.625, 462.375], "nice": false, "zero": false}, "axis": null},
        "y": {"field": "p", "type": "quantitative", "scale": {"domain": [26.955, 35.258], "nice": false, "zero": false}, "axis": null}
      }
    },
    {
      "data": {"name": "bid"},
      "mark": {"type": "tick", "orient": "horizontal", "size": 48, "thickness": 12, "color": "black", "opacity": 1},
      "encoding": {
        "x": {"datum": 468.95, "type": "quantitative", "scale": {"domain": [-0.625, 462.375], "nice": false, "zero": false}, "axis": null},
        "y": {"field": "p", "type": "quantitative", "scale": {"domain": [26.955, 35.258], "nice": false, "zero": false}, "axis": null}
      }
    },
    {
      "data": {"name": "levels"},
      "mark": {"type": "text", "font": "DejaVu Sans", "fontSize": 11, "color": "white", "align": "center", "baseline": "middle"},
      "encoding": {
        "x": {"datum": 468.95, "type": "quantitative", "scale": {"domain": [-0.625, 462.375], "nice": false, "zero": false}, "axis": null},
        "y": {"field": "p", "type": "quantitative", "scale": {"domain": [26.955, 35.258], "nice": false, "zero": false}, "axis": null},
        "text": {"field": "p", "type": "quantitative", "format": ".3f"}
      }
    },
    {
      "data": {"name": "bid"},
      "mark": {"type": "text", "font": "DejaVu Sans", "fontSize": 11, "color": "white", "align": "center", "baseline": "middle"},
      "encoding": {
        "x": {"datum": 468.95, "type": "quantitative", "scale": {"domain": [-0.625, 462.375], "nice": false, "zero": false}, "axis": null},
        "y": {"field": "p", "type": "quantitative", "scale": {"domain": [26.955, 35.258], "nice": false, "zero": false}, "axis": null},
        "text": {"field": "p", "type": "quantitative", "format": ".3f"}
      }
    },
    {
      "data": {"values": [{}]},
      "mark": {"type": "text", "font": "Liberation Sans", "fontSize": 53, "color": "#ff0000", "align": "left", "baseline": "alphabetic", "text": "SILVER_H4"},
      "encoding": {
        "x": {"datum": 154.4, "type": "quantitative", "scale": {"domain": [-0.625, 462.375], "nice": false, "zero": false}, "axis": null},
        "y": {"datum": 34.705, "type": "quantitative", "scale": {"domain": [26.955, 35.258], "nice": false, "zero": false}, "axis": null}
      }
    },
    {
      "data": {"values": [{}]},
      "mark": {"type": "text", "font": "Liberation Sans", "fontSize": 53, "color": "#ff0000", "align": "left", "baseline": "alphabetic", "text": "33.40"},
      "encoding": {
        "x": {"datum": 397.8, "type": "quantitative", "scale": {"domain": [-0.625, 462.375], "nice": false, "zero": false}, "axis": null},
        "y": {"datum": 33.565, "type": "quantitative", "scale": {"domain": [26.955, 35.258], "nice": false, "zero": false}, "axis": null}
      }
    },
    {
      "data": {"values": [{}]},
      "mark": {"type": "text", "font": "Liberation Sans", "fontSize": 52.5, "color": "#000080", "align": "left", "baseline": "alphabetic", "text": "33.45~32.95"},
      "encoding": {
        "x": {"datum": 379.3, "type": "quantitative", "scale": {"domain": [-0.625, 462.375], "nice": false, "zero": false}, "axis": null},
        "y": {"datum": 32.575, "type": "quantitative", "scale": {"domain": [26.955, 35.258], "nice": false, "zero": false}, "axis": null}
      }
    },
    {
      "data": {"values": [{}]},
      "mark": {"type": "text", "font": "DejaVu Sans", "fontSize": 12, "color": "black", "align": "left", "baseline": "alphabetic", "text": "SILVER,H4\u00a0 32.650 32.745 32.628 32.733"},
      "encoding": {
        "x": {"datum": 3.375, "type": "quantitative", "scale": {"domain": [-0.625, 462.375], "nice": false, "zero": false}, "axis": null},
        "y": {"datum": 35.125, "type": "quantitative", "scale": {"domain": [26.955, 35.258], "nice": false, "zero": false}, "axis": null}
      }
    },
    {
      "data": {"values": [{}]},
      "mark": {"type": "point", "shape": "triangle-down", "size": 22, "filled": true, "color": "black", "opacity": 1},
      "encoding": {
        "x": {"datum": 0.5, "type": "quantitative", "scale": {"domain": [-0.625, 462.375], "nice": false, "zero": false}, "axis": null},
        "y": {"datum": 35.18, "type": "quantitative", "scale": {"domain": [26.955, 35.258], "nice": false, "zero": false}, "axis": null}
      }
    },
    {
      "data": {"values": [{}]},
      "mark": {"type": "point", "shape": "triangle-down", "size": 70, "filled": true, "color": "#c0c0c0", "opacity": 1},
      "encoding": {
        "x": {"datum": 369.1, "type": "quantitative", "scale": {"domain": [-0.625, 462.375], "nice": false, "zero": false}, "axis": null},
        "y": {"datum": 35.24, "type": "quantitative", "scale": {"domain": [26.955, 35.258], "nice": false, "zero": false}, "axis": null}
      }
    }
  ]
}
